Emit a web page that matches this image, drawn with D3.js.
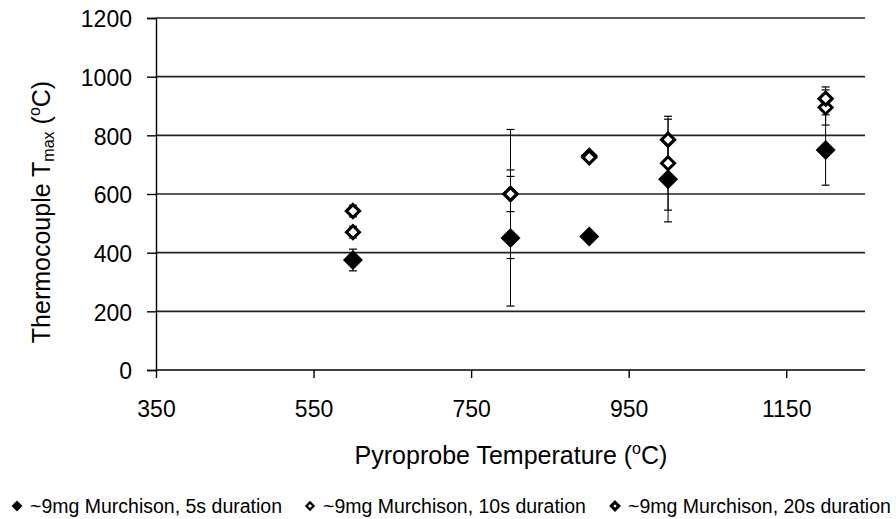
<!DOCTYPE html>
<html><head><meta charset="utf-8">
<script src="https://cdn.jsdelivr.net/npm/d3@7"></script>
<style>body{margin:0;background:#fff}svg{display:block;font-family:"Liberation Sans",Arial,sans-serif}</style>
</head><body><svg id="c" width="896" height="519"></svg>
<script>
const xTicks = [350, 550, 750, 950, 1150];
const yTicks = [0, 200, 400, 600, 800, 1000, 1200];
const seriesNames = ["~9mg Murchison, 5s duration", "~9mg Murchison, 10s duration", "~9mg Murchison, 20s duration"];
const pyroTemps = [600, 800, 900, 1000, 1200];
const tmax5s  = [375, 450, 455, 650, 750];
const err5s   = [37, 232, 0, 145, 120];
const tmax10s = [470, 600, 730, 705, 895];
const err10s  = [20, 60, 10, 160, 60];
const tmax20s = [542, 600, 725, 785, 925];
const err20s  = [20, 220, 10, 70, 40];

const svg = d3.select("#c");
const L = 156, R = 865, T = 18, B = 370;
const x = d3.scaleLinear().domain([350, 1250]).range([L, R]);
const y = d3.scaleLinear().domain([0, 1200]).range([B, T]);
const FONT = "Liberation Sans, Arial, sans-serif";

// gridlines
svg.append("g").selectAll("line").data(yTicks.filter(d => d > 0)).join("line")
  .attr("x1", L).attr("x2", R).attr("y1", d => y(d)).attr("y2", d => y(d))
  .attr("stroke", "#222").attr("stroke-width", 1.6);

// axes
const yAxis = d3.axisLeft(y).tickValues(yTicks).tickSize(9).tickFormat(d3.format("d"));
const gy = svg.append("g").attr("transform", `translate(${L},0)`).call(yAxis);
gy.select(".domain").attr("stroke", "#000").attr("stroke-width", 1.4);
gy.selectAll(".tick line").attr("stroke", "#000").attr("stroke-width", 1.4).attr("x2", -9).attr("x1", 1);
gy.selectAll(".tick text").attr("x", -24).attr("dy", "0.38em").attr("font-size", 23).attr("fill", "#000").style("font-family", FONT);

const xAxis = d3.axisBottom(x).tickValues(xTicks).tickSize(8).tickFormat(d3.format("d"));
const gx = svg.append("g").attr("transform", `translate(0,${B})`).call(xAxis);
gx.select(".domain").attr("stroke", "#000").attr("stroke-width", 1.6).attr("d", `M${L},0H${R}`);
gx.selectAll(".tick line").attr("stroke", "#000").attr("stroke-width", 1.4);
gx.selectAll(".tick text").attr("y", 47).attr("dy", 0).attr("font-size", 23).attr("fill", "#000").style("font-family", FONT);

// axis titles
const xt = svg.append("text").attr("x", 511).attr("y", 464).attr("text-anchor", "middle").attr("font-size", 25).attr("fill", "#000");
xt.append("tspan").text("Pyroprobe Temperature (");
xt.append("tspan").attr("font-size", 16).attr("dy", -10).text("o");
xt.append("tspan").attr("dy", 10).text("C)");

const yt = svg.append("text").attr("transform", "translate(50,212) rotate(-90)").attr("text-anchor", "middle").attr("font-size", 25).attr("fill", "#000");
yt.append("tspan").text("Thermocouple T");
yt.append("tspan").attr("font-size", 16).attr("dy", 4).text("max");
yt.append("tspan").attr("dy", -4).text(" (");
yt.append("tspan").attr("font-size", 16).attr("dy", -10).text("o");
yt.append("tspan").attr("dy", 10).text("C)");

// series
const series = [
  {vals: tmax5s, errs: err5s, fill: "#000", size: 10, sw: 0},
  {vals: tmax10s, errs: err10s, fill: "#fff", size: 6.5, sw: 3},
  {vals: tmax20s, errs: err20s, fill: "#fff", size: 6.5, sw: 3.2}
];
const diamond = (s) => `M0,${-s}L${s},0L0,${s}L${-s},0Z`;

series.forEach(s => {
  const pts = pyroTemps.map((t, i) => ({t, v: s.vals[i], e: s.errs[i]}));
  const eb = svg.append("g").selectAll("g").data(pts.filter(p => p.e > 0)).join("g");
  eb.append("line").attr("x1", p => x(p.t)).attr("x2", p => x(p.t))
    .attr("y1", p => y(p.v - p.e)).attr("y2", p => y(p.v + p.e)).attr("stroke", "#000").attr("stroke-width", 1);
  [-1, 1].forEach(k => {
    eb.append("line").attr("x1", p => x(p.t) - 4).attr("x2", p => x(p.t) + 4)
      .attr("y1", p => y(p.v + k * p.e)).attr("y2", p => y(p.v + k * p.e)).attr("stroke", "#000").attr("stroke-width", 1.2);
  });
});
series.forEach(s => {
  const pts = pyroTemps.map((t, i) => ({t, v: s.vals[i]}));
  svg.append("g").selectAll("path").data(pts).join("path")
    .attr("transform", p => `translate(${x(p.t)},${y(p.v)})`)
    .attr("d", diamond(s.size)).attr("fill", s.fill).attr("stroke", "#000").attr("stroke-width", s.sw);
});

// legend
const legX = [17, 310, 615];
const legSize = [5.5, 3.6, 3.8];
const legSW = [0, 2.2, 3];
seriesNames.forEach((n, i) => {
  const g = svg.append("g").attr("transform", `translate(${legX[i]},506)`);
  g.append("path").attr("d", diamond(legSize[i])).attr("fill", series[i].fill).attr("stroke", "#000").attr("stroke-width", legSW[i]);
  g.append("text").attr("x", 13).attr("y", 7).attr("font-size", 19.5).attr("fill", "#000").text(n);
});
</script></body></html>
